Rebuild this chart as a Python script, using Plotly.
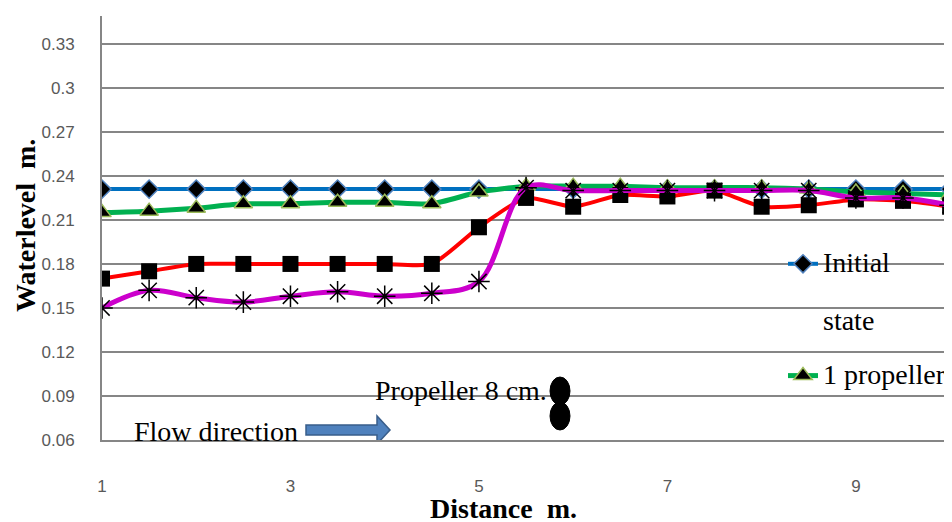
import plotly.graph_objects as go

# ---- data ----
distance = [1, 1.5, 2, 2.5, 3, 3.5, 4, 4.5, 5, 5.5, 6, 6.5, 7, 7.5, 8, 8.5, 9, 9.5, 10]
initial_state = [0.231, 0.231, 0.231, 0.231, 0.231, 0.231, 0.231, 0.231, 0.231, 0.231,
                 0.231, 0.231, 0.231, 0.231, 0.231, 0.231, 0.231, 0.231, 0.231]
one_propeller = [0.215, 0.216, 0.218, 0.221, 0.221, 0.222, 0.222, 0.221, 0.229, 0.233,
                 0.233, 0.233, 0.232, 0.232, 0.232, 0.231, 0.229, 0.228, 0.227]
series_red = [0.170, 0.175, 0.180, 0.180, 0.180, 0.180, 0.180, 0.180, 0.205, 0.225,
              0.219, 0.227, 0.226, 0.230, 0.219, 0.220, 0.224, 0.223, 0.219]
series_magenta = [0.150, 0.162, 0.157, 0.154, 0.158, 0.161, 0.158, 0.160, 0.168, 0.232,
                  0.230, 0.230, 0.230, 0.230, 0.230, 0.230, 0.225, 0.225, 0.220]
y_ticks = [0.06, 0.09, 0.12, 0.15, 0.18, 0.21, 0.24, 0.27, 0.3, 0.33]
y_tick_text = ["0.06", "0.09", "0.12", "0.15", "0.18", "0.21", "0.24", "0.27", "0.3", "0.33"]
x_ticks = [1, 3, 5, 7, 9]

# ---- layout geometry ----
# The page body adds an 8px offset, so the figure is laid out 8px up/left.
OFF = 8
W, H = 952, 522
PL, PR, PT, PB = 102, 952, 16, 440          # plot box in window pixels
ML, MT = PL - OFF, PT - OFF
MR, MB = W - (PR - OFF), H - (PB - OFF)
XR = [1, 10.02]
YR = [0.06, 0.349]
PW, PH = PR - PL, PB - PT


def px2x(p):
    return XR[0] + (p - PL) / PW * (XR[1] - XR[0])


def px2y(p):
    return YR[0] + (PB - p) / PH * (YR[1] - YR[0])


def pxp(px, py):
    return (px - PL) / PW, (PB - py) / PH


SERIF = "Liberation Serif, Times New Roman, serif"
SANS = "Liberation Sans, Arial, sans-serif"
FS = 28


def big(t):
    return f"<span style='font-size:{FS}px'>{t}</span>"


fig = go.Figure()
fig.add_trace(go.Scatter(
    x=distance, y=initial_state, name=big("Initial") + "<br><br>" + big("state"),
    mode="lines+markers",
    line=dict(color="#0070C0", width=4, shape="spline", smoothing=0.6),
    marker=dict(symbol="diamond", size=14, color="black", line=dict(color="#4F81BD", width=1.5)),
    legendgroup="a"))
fig.add_trace(go.Scatter(
    x=distance, y=one_propeller, name=big("1 propeller"), mode="lines+markers",
    line=dict(color="#00B050", width=5, shape="spline", smoothing=0.6),
    marker=dict(symbol="triangle-up", size=16, color="black", line=dict(color="#9BBB59", width=1.5)),
    legendgroup="b"))
fig.add_trace(go.Scatter(
    x=distance, y=series_red, name="2 propellers", mode="lines+markers", showlegend=False,
    line=dict(color="#FF0000", width=4, shape="spline", smoothing=0.6),
    marker=dict(symbol="square", size=16, color="black")))
fig.add_trace(go.Scatter(
    x=distance, y=series_magenta, name="3 propellers", mode="lines+markers", showlegend=False,
    line=dict(color="#CC00CC", width=5, shape="spline", smoothing=1.0),
    marker=dict(symbol="asterisk-open", size=18, color="black", line=dict(color="black", width=1.5))))

# flow direction arrow (block arrow)
ax0, ax1, ax2 = px2x(306), px2x(377), px2x(390)
ys0, ys1 = px2y(425), px2y(435)
yh0, yh1, ym = px2y(416), px2y(444), px2y(430)
fig.add_shape(type="path", xref="x", yref="y",
              path=f"M{ax0},{ys0} L{ax1},{ys0} L{ax1},{yh0} L{ax2},{ym} L{ax1},{yh1} L{ax1},{ys1} L{ax0},{ys1} Z",
              fillcolor="#4F81BD", line=dict(color="#385D8A", width=1.5))
# propeller ovals
for cy in (391, 416):
    fig.add_shape(type="circle", xref="x", yref="y",
                  x0=px2x(550), x1=px2x(570), y0=px2y(cy + 14), y1=px2y(cy - 14),
                  fillcolor="black", line=dict(color="black", width=1))

fx, fy = pxp(300, 431)
fig.add_annotation(x=fx, y=fy, xref="paper", yref="paper", text="Flow direction",
                   showarrow=False, xanchor="right", yanchor="middle",
                   font=dict(family=SERIF, size=FS, color="black"))
fx, fy = pxp(549, 390)
fig.add_annotation(x=fx, y=fy, xref="paper", yref="paper", text="Propeller 8 cm.",
                   showarrow=False, xanchor="right", yanchor="middle",
                   font=dict(family=SERIF, size=FS, color="black"))
# axis titles
fx, fy = pxp(26, 226)
fig.add_annotation(x=fx, y=fy, xref="paper", yref="paper", text="<b>Waterlevel  m.</b>",
                   showarrow=False, textangle=-90, xanchor="center", yanchor="middle",
                   font=dict(family=SERIF, size=FS, color="black"))
fx, fy = pxp(503, 508)
fig.add_annotation(x=fx, y=fy, xref="paper", yref="paper", text="<b>Distance  m.</b>",
                   showarrow=False, xanchor="center", yanchor="middle",
                   font=dict(family=SERIF, size=FS, color="black"))

lx, ly = pxp(783, 243)
fig.update_layout(
    width=W, height=H,
    margin=dict(l=ML, r=MR, t=MT, b=MB, pad=0),
    paper_bgcolor="white", plot_bgcolor="white",
    showlegend=True,
    legend=dict(x=lx, y=ly, xanchor="left", yanchor="top",
                bgcolor="rgba(0,0,0,0)", font=dict(family=SERIF, size=22, color="black"),
                tracegroupgap=23, valign="top"),
    xaxis=dict(range=XR, tickvals=x_ticks, ticktext=[str(v) for v in x_ticks],
               showgrid=False, zeroline=False, showline=True, linecolor="#868686", linewidth=2,
               ticks="", ticklabelstandoff=30,
               tickfont=dict(family=SANS, size=17, color="#595959")),
    yaxis=dict(range=YR, tickvals=y_ticks, ticktext=y_tick_text,
               showgrid=True, gridcolor="#868686", gridwidth=1.5, zeroline=False,
               showline=True, linecolor="#868686", linewidth=2, ticks="", ticklabelstandoff=22,
               tickfont=dict(family=SANS, size=17, color="#595959")),
)

fig.write_html("out.html")
